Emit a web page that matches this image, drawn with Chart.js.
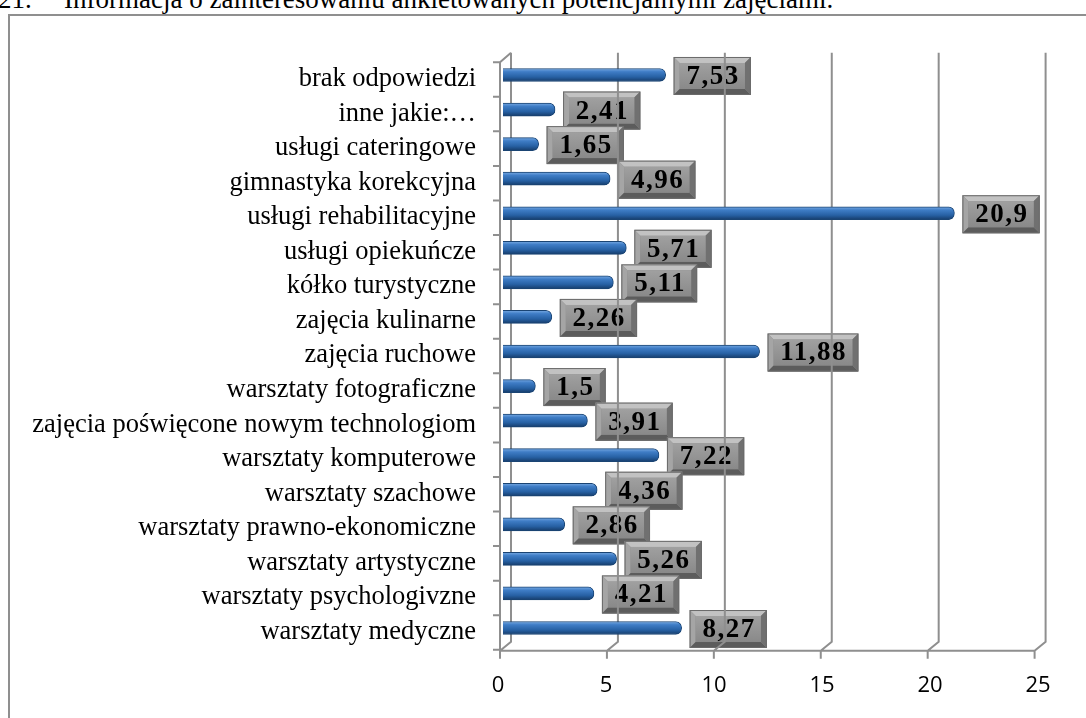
<!DOCTYPE html>
<html><head><meta charset="utf-8">
<script src="https://cdn.jsdelivr.net/npm/chart.js@4"></script>
<style>
html,body{margin:0;padding:0;background:#fff;overflow:hidden;width:1086px;height:718px;}
#frame{position:absolute;left:8px;top:14px;width:1200px;height:800px;border-left:2px solid #8f8f8f;border-top:2px solid #8f8f8f;}
.title{position:absolute;top:-14px;font-family:"Liberation Serif";font-size:27px;line-height:26px;white-space:nowrap;color:#000;}
canvas{position:absolute;left:0;top:0;}
</style></head><body>
<div class="title" style="left:-2px">21.</div>
<div class="title" style="left:64px">Informacja o zainteresowaniu ankietowanych potencjalnymi zajęciami.</div>
<div id="frame"></div>
<canvas id="c" width="1086" height="718"></canvas>
<script>
const categories = [
  'brak odpowiedzi',
  'inne jakie:…',
  'usługi cateringowe',
  'gimnastyka korekcyjna',
  'usługi rehabilitacyjne',
  'usługi opiekuńcze',
  'kółko turystyczne',
  'zajęcia kulinarne',
  'zajęcia ruchowe',
  'warsztaty fotograficzne',
  'zajęcia poświęcone nowym technologiom',
  'warsztaty komputerowe',
  'warsztaty szachowe',
  'warsztaty prawno-ekonomiczne',
  'warsztaty artystyczne',
  'warsztaty psychologivzne',
  'warsztaty medyczne'
];
const values = [7.53, 2.41, 1.65, 4.96, 20.9, 5.71, 5.11, 2.26, 11.88, 1.5, 3.91, 7.22, 4.36, 2.86, 5.26, 4.21, 8.27];
const valueLabels = values.map(v => String(v).replace('.', ','));
const xMin = 0, xMax = 25, xStep = 5;

function poly(ctx, pts, color) {
  ctx.beginPath();
  ctx.moveTo(pts[0][0], pts[0][1]);
  for (let i = 1; i < pts.length; i++) ctx.lineTo(pts[i][0], pts[i][1]);
  ctx.closePath();
  ctx.fillStyle = color;
  ctx.fill();
}
function drawBevel(ctx, x, y, w, h) {
  const b = 6;
  ctx.fillStyle = '#8a8a8a';
  ctx.fillRect(x, y, w, h);
  poly(ctx, [[x, y], [x + w, y], [x + w - b, y + b], [x + b, y + b]], '#c2c2c2');
  poly(ctx, [[x, y], [x + b, y + b], [x + b, y + h - b], [x, y + h]], '#a5a5a5');
  poly(ctx, [[x, y + h], [x + b, y + h - b], [x + w - b, y + h - b], [x + w, y + h]], '#5c5c5c');
  poly(ctx, [[x + w, y], [x + w, y + h], [x + w - b, y + h - b], [x + w - b, y + b]], '#707070');
  const g = ctx.createLinearGradient(0, y + b, 0, y + h - b);
  g.addColorStop(0, '#a0a0a0');
  g.addColorStop(1, '#898989');
  ctx.fillStyle = g;
  ctx.fillRect(x + b, y + b, w - 2 * b, h - 2 * b);
  ctx.strokeStyle = '#6b6b6b';
  ctx.lineWidth = 1;
  ctx.strokeRect(x + 0.5, y + 0.5, w - 1, h - 1);
}

const frame3d = {
  id: 'frame3d',
  beforeDatasetsDraw(chart) {
    const {ctx, chartArea: a, scales: {x}} = chart;
    const meta = chart.getDatasetMeta(0);
    ctx.save();
    ctx.font = 'bold 27px "Liberation Serif"';
    ctx.letterSpacing = '1.5px';
    meta.data.forEach((el, i) => {
      const txt = valueLabels[i];
      const tw = ctx.measureText(txt).width;
      const w = tw + 24, h = 38;
      const bx = el.x + 8, by = el.y + 1 - h / 2;
      drawBevel(ctx, bx, by, w, h);
      ctx.fillStyle = '#000';
      ctx.textAlign = 'center';
      ctx.textBaseline = 'middle';
      ctx.fillText(txt, bx + w / 2 + 0.75, by + h / 2 + 1);
    });
    ctx.restore();
    const k = 0.99;
    const fx = v => a.left - 3 + (x.getPixelForValue(v) - a.left) * k;
    const bk = v => a.left + 8 + (x.getPixelForValue(v) - a.left) * k;
    const backTop = a.top - 5, backBot = a.bottom - 3.5, frontBot = a.bottom + 5.5, frontTop = a.top + 4.5;
    ctx.save();
    ctx.strokeStyle = '#8f8f8f';
    ctx.lineWidth = 2;
    ctx.beginPath();
    for (let v = xMin; v <= xMax; v += xStep) {
      ctx.moveTo(bk(v), backTop); ctx.lineTo(bk(v), backBot); ctx.lineTo(fx(v), frontBot);
      ctx.moveTo(fx(v), frontBot); ctx.lineTo(fx(v), frontBot + 8);
    }
    ctx.moveTo(fx(xMin), frontBot); ctx.lineTo(fx(xMax), frontBot);
    ctx.moveTo(fx(xMin), frontBot); ctx.lineTo(fx(xMin), frontTop); ctx.lineTo(bk(xMin), backTop);
    const n = categories.length, step = a.height / n;
    for (let i = 0; i <= n; i++) {
      const yy = a.top + i * step + 4.5;
      ctx.moveTo(fx(xMin) - 7, yy); ctx.lineTo(fx(xMin), yy);
    }
    ctx.stroke();
    ctx.restore();
  }
};

new Chart(document.getElementById('c'), {
  type: 'bar',
  data: {
    labels: categories,
    datasets: [{
      data: values,
      backgroundColor: (c) => {
        const ch = c.chart, ys = ch.scales && ch.scales.y;
        if (!ys || c.dataIndex === undefined) return '#2e6db5';
        const yc = ys.getPixelForValue(c.dataIndex);
        if (!isFinite(yc)) return '#2e6db5';
        const g = ch.ctx.createLinearGradient(0, yc - 6.5, 0, yc + 6.5);
        g.addColorStop(0, '#78aae3');
        g.addColorStop(0.25, '#3f7dc6');
        g.addColorStop(0.65, '#2761a4');
        g.addColorStop(1, '#163c6a');
        return g;
      },
      borderColor: '#1a4473',
      borderWidth: 1,
      borderSkipped: 'start',
      borderRadius: 6,
      barThickness: 13
    }]
  },
  options: {
    indexAxis: 'y',
    responsive: false,
    animation: false,
    layout: {padding: {top: 57.7, right: 43, left: 0, bottom: 0}},
    plugins: {legend: {display: false}, tooltip: {enabled: false}},
    scales: {
      x: {
        min: xMin, max: xMax,
        grid: {display: false, drawTicks: false},
        border: {display: false},
        ticks: {stepSize: xStep, color: '#000', font: {family: 'Open Sans', size: 22}, padding: 27, labelOffset: -5, maxRotation: 0},
        afterFit: s => { s.height = 72.7; }
      },
      y: {
        grid: {display: false, drawTicks: false},
        border: {display: false},
        ticks: {autoSkip: false, color: '#000', font: {family: 'Liberation Serif', size: 26.5}, padding: 27, labelOffset: 4},
        afterFit: s => { s.width = 503; }
      }
    }
  },
  plugins: [frame3d]
});
</script>
</body></html>
